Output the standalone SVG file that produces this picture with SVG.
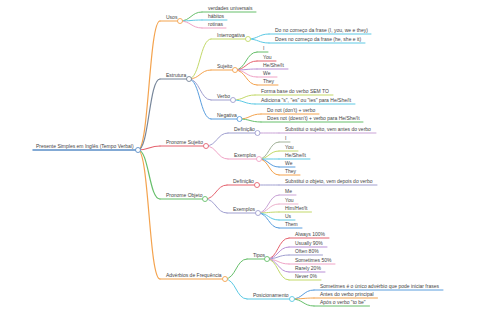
<svg xmlns="http://www.w3.org/2000/svg" width="480" height="320" viewBox="0 0 480 320">
<style>
text{font-family:"Liberation Sans",Arial,sans-serif;font-size:5px;fill:#444}
path,line{fill:none;stroke-linecap:round}
line{stroke-width:1}
.cn path{stroke-width:1}
.cn .d1{stroke-width:1.2}
circle{fill:#fff;stroke-width:0.9}
.o{stroke:#f4a34e}.g{stroke:#77869a}.r{stroke:#e5636f}.gr{stroke:#67bf6b}.yg{stroke:#c3d96a}
.c{stroke:#5cc9e4}.p{stroke:#f0a3c6}.pu{stroke:#b98fd6}.b{stroke:#5a9ede}.pg{stroke:#a09fd0}
.rt{stroke:#5b8fc7}.gy{stroke:#a3b39a}.mv{stroke:#c9a3d6}.lp{stroke:#ecb2cc}
</style>
<rect width="480" height="320" fill="#fff"/>
<g class="cn" id="connectors">
<path class="o d1" d="M138,150C149,150 149,21 160,21"/>
<path class="g d1" d="M138,150C149,150 149,79 160,79"/>
<path class="r d1" d="M138,150C149,150 149,146 160,146"/>
<path class="gr d1" d="M138,150C149,150 149,199 160,199"/>
<path class="o d1" d="M138,150C149,150 149,279 160,279"/>
<path class="gr" d="M180,21C191,21 191,12 202,12"/>
<path class="c" d="M180,21C191,21 191,20 202,20"/>
<path class="p" d="M180,21C191,21 191,28 202,28"/>
<path class="yg" d="M189,79C200,79 200,39 211,39"/>
<path class="o" d="M189,79C200,79 200,70 211,70"/>
<path class="pg" d="M189,79C200,79 200,100 211,100"/>
<path class="b" d="M189,79C200,79 200,119 211,119"/>
<path class="c" d="M248,39C258.5,39 258.5,34 269,34"/>
<path class="c" d="M248,39C258.5,39 258.5,43 269,43"/>
<path class="gr" d="M235,70C246,70 246,52 257,52"/>
<path class="r" d="M235,70C246,70 246,61 257,61"/>
<path class="pu" d="M235,70C246,70 246,69 257,69"/>
<path class="p" d="M235,70C246,70 246,77 257,77"/>
<path class="o" d="M235,70C246,70 246,85 257,85"/>
<path class="yg" d="M233,100C244,100 244,95 255,95"/>
<path class="c" d="M233,100C244,100 244,104 255,104"/>
<path class="o" d="M239.5,119C250,119 250,114 261,114"/>
<path class="gr" d="M239.5,119C250,119 250,122 261,122"/>
<path class="pg" d="M206,146C217,146 217,133 228,133"/>
<path class="p" d="M206,146C217,146 217,159 228,159"/>
<path class="mv" d="M257.5,133C268,133 268,133 279,133"/>
<path class="gy" d="M259,159C269,159 269,142 279,142"/>
<path class="yg" d="M259,159C269,159 269,151 279,151"/>
<path class="c" d="M259,159C269,159 269,159 279,159"/>
<path class="b" d="M259,159C269,159 269,167 279,167"/>
<path class="o" d="M259,159C269,159 269,175 279,175"/>
<path class="r" d="M205,199C216,199 216,185 227,185"/>
<path class="pg" d="M205,199C216,199 216,213 227,213"/>
<path class="pg" d="M257,185C268,185 268,185 279,185"/>
<path class="mv" d="M258,213C268.5,213 268.5,195 279,195"/>
<path class="lp" d="M258,213C268.5,213 268.5,204 279,204"/>
<path class="yg" d="M258,213C268.5,213 268.5,212 279,212"/>
<path class="c" d="M258,213C268.5,213 268.5,220 279,220"/>
<path class="b" d="M258,213C268.5,213 268.5,228 279,228"/>
<path class="gr" d="M225,279C236,279 236,259 247,259"/>
<path class="c" d="M225,279C236,279 236,299 247,299"/>
<path class="r" d="M267,259C278,259 278,238 289,238"/>
<path class="pu" d="M267,259C278,259 278,247 289,247"/>
<path class="pg" d="M267,259C278,259 278,255 289,255"/>
<path class="p" d="M267,259C278,259 278,264 289,264"/>
<path class="pu" d="M267,259C278,259 278,272 289,272"/>
<path class="yg" d="M267,259C278,259 278,280 289,280"/>
<path class="b" d="M292,299C303,299 303,290 314,290"/>
<path class="o" d="M292,299C303,299 303,298 314,298"/>
<path class="gr" d="M292,299C303,299 303,306 314,306"/>
</g>
<g id="root"><line class="rt" x1="33" y1="150" x2="138" y2="150" style="stroke-width:1.5"/><circle class="rt" cx="138" cy="150" r="2.5"/><text x="36" y="148.2">Presente Simples em Inglês (Tempo Verbal)</text></g>
<g id="usos"><line class="o" x1="160" y1="21" x2="180" y2="21" style="stroke-width:1.2"/><circle class="o" cx="180" cy="21" r="2.5"/><text x="166" y="19.2">Usos</text></g>
<g id="usos-1"><line class="gr" x1="202" y1="12" x2="256" y2="12"/><text x="208" y="10.2">verdades universais</text></g>
<g id="usos-2"><line class="c" x1="202" y1="20" x2="227" y2="20"/><text x="208" y="18.2">hábitos</text></g>
<g id="usos-3"><line class="p" x1="202" y1="28" x2="226" y2="28"/><text x="208" y="26.2">rotinas</text></g>
<g id="estrutura"><line class="g" x1="160" y1="79" x2="189" y2="79" style="stroke-width:1.2"/><circle class="g" cx="189" cy="79" r="2.5"/><text x="166" y="77.2">Estrutura</text></g>
<g id="interrogativa"><line class="yg" x1="211" y1="39" x2="248" y2="39"/><circle class="yg" cx="248" cy="39" r="2.5"/><text x="217" y="37.2">Interrogativa</text></g>
<g id="int-1"><line class="c" x1="269" y1="34" x2="371" y2="34"/><text x="275" y="32.2">Do no começo da frase (I, you, we e they)</text></g>
<g id="int-2"><line class="c" x1="269" y1="43" x2="365" y2="43"/><text x="275" y="41.2">Does no começo da frase (he, she e it)</text></g>
<g id="sujeito"><line class="o" x1="211" y1="70" x2="235" y2="70"/><circle class="o" cx="235" cy="70" r="2.5"/><text x="217" y="68.2">Sujeito</text></g>
<g id="suj-1"><line class="gr" x1="257" y1="52" x2="268" y2="52"/><text x="263" y="50.2">I</text></g>
<g id="suj-2"><line class="r" x1="257" y1="61" x2="276" y2="61"/><text x="263" y="59.2">You</text></g>
<g id="suj-3"><line class="pu" x1="257" y1="69" x2="288" y2="69"/><text x="263" y="67.2">He/She/It</text></g>
<g id="suj-4"><line class="p" x1="257" y1="77" x2="277" y2="77"/><text x="263" y="75.2">We</text></g>
<g id="suj-5"><line class="o" x1="257" y1="85" x2="278" y2="85"/><text x="263" y="83.2">They</text></g>
<g id="verbo"><line class="pg" x1="211" y1="100" x2="233" y2="100"/><circle class="pg" cx="233" cy="100" r="2.5"/><text x="217" y="98.2">Verbo</text></g>
<g id="verbo-1"><line class="yg" x1="255" y1="95" x2="333" y2="95"/><text x="261" y="93.2">Forma base do verbo SEM TO</text></g>
<g id="verbo-2"><line class="c" x1="255" y1="104" x2="355" y2="104"/><text x="261" y="102.2">Adiciona "s", "es" ou "ies" para He/She/It</text></g>
<g id="negativa"><line class="b" x1="211" y1="119" x2="239.5" y2="119"/><circle class="b" cx="239.5" cy="119" r="2.5"/><text x="217" y="117.2">Negativa</text></g>
<g id="neg-1"><line class="o" x1="261" y1="114" x2="319" y2="114"/><text x="267" y="112.2">Do not (don't) + verbo</text></g>
<g id="neg-2"><line class="gr" x1="261" y1="122" x2="363" y2="122"/><text x="267" y="120.2">Does not (doesn't) + verbo para He/She/It</text></g>
<g id="pronome-sujeito"><line class="r" x1="160" y1="146" x2="206" y2="146" style="stroke-width:1.2"/><circle class="r" cx="206" cy="146" r="2.5"/><text x="166" y="144.2">Pronome Sujeito</text></g>
<g id="ps-definicao"><line class="pg" x1="228" y1="133" x2="257.5" y2="133"/><circle class="pg" cx="257.5" cy="133" r="2.5"/><text x="234" y="131.2">Definição</text></g>
<g id="ps-def-1"><line class="mv" x1="279" y1="133" x2="376" y2="133"/><text x="285" y="131.2">Substitui o sujeito, vem antes do verbo</text></g>
<g id="ps-exemplos"><line class="p" x1="228" y1="159" x2="259" y2="159"/><circle class="p" cx="259" cy="159" r="2.5"/><text x="234" y="157.2">Exemplos</text></g>
<g id="ps-ex-1"><line class="gy" x1="279" y1="142" x2="290" y2="142"/><text x="285" y="140.2">I</text></g>
<g id="ps-ex-2"><line class="yg" x1="279" y1="151" x2="298" y2="151"/><text x="285" y="149.2">You</text></g>
<g id="ps-ex-3"><line class="c" x1="279" y1="159" x2="310" y2="159"/><text x="285" y="157.2">He/She/It</text></g>
<g id="ps-ex-4"><line class="b" x1="279" y1="167" x2="295" y2="167"/><text x="285" y="165.2">We</text></g>
<g id="ps-ex-5"><line class="o" x1="279" y1="175" x2="300" y2="175"/><text x="285" y="173.2">They</text></g>
<g id="pronome-objeto"><line class="gr" x1="160" y1="199" x2="205" y2="199" style="stroke-width:1.2"/><circle class="gr" cx="205" cy="199" r="2.5"/><text x="166" y="197.2">Pronome Objeto</text></g>
<g id="po-definicao"><line class="r" x1="227" y1="185" x2="257" y2="185"/><circle class="r" cx="257" cy="185" r="2.5"/><text x="233" y="183.2">Definição</text></g>
<g id="po-def-1"><line class="pg" x1="279" y1="185" x2="377" y2="185"/><text x="285" y="183.2">Substitui o objeto, vem depois do verbo</text></g>
<g id="po-exemplos"><line class="pg" x1="227" y1="213" x2="258" y2="213"/><circle class="pg" cx="258" cy="213" r="2.5"/><text x="233" y="211.2">Exemplos</text></g>
<g id="po-ex-1"><line class="mv" x1="279" y1="195" x2="296" y2="195"/><text x="285" y="193.2">Me</text></g>
<g id="po-ex-2"><line class="lp" x1="279" y1="204" x2="298" y2="204"/><text x="285" y="202.2">You</text></g>
<g id="po-ex-3"><line class="yg" x1="279" y1="212" x2="311.5" y2="212"/><text x="285" y="210.2">Him/Her/It</text></g>
<g id="po-ex-4"><line class="c" x1="279" y1="220" x2="295" y2="220"/><text x="285" y="218.2">Us</text></g>
<g id="po-ex-5"><line class="b" x1="279" y1="228" x2="302" y2="228"/><text x="285" y="226.2">Them</text></g>
<g id="adverbios"><line class="o" x1="160" y1="279" x2="225" y2="279" style="stroke-width:1.2"/><circle class="o" cx="225" cy="279" r="2.5"/><text x="166" y="277.2">Advérbios de Frequência</text></g>
<g id="tipos"><line class="gr" x1="247" y1="259" x2="267" y2="259"/><circle class="gr" cx="267" cy="259" r="2.5"/><text x="253" y="257.2">Tipos</text></g>
<g id="tipos-1"><line class="r" x1="289" y1="238" x2="329" y2="238"/><text x="295" y="236.2">Always 100%</text></g>
<g id="tipos-2"><line class="pu" x1="289" y1="247" x2="327" y2="247"/><text x="295" y="245.2">Usually 90%</text></g>
<g id="tipos-3"><line class="pg" x1="289" y1="255" x2="322.5" y2="255"/><text x="295" y="253.2">Often 80%</text></g>
<g id="tipos-4"><line class="p" x1="289" y1="264" x2="335" y2="264"/><text x="295" y="262.2">Sometimes 50%</text></g>
<g id="tipos-5"><line class="pu" x1="289" y1="272" x2="325" y2="272"/><text x="295" y="270.2">Rarely 20%</text></g>
<g id="tipos-6"><line class="yg" x1="289" y1="280" x2="321" y2="280"/><text x="295" y="278.2">Never 0%</text></g>
<g id="posicionamento"><line class="c" x1="247" y1="299" x2="292" y2="299"/><circle class="c" cx="292" cy="299" r="2.5"/><text x="253" y="297.2">Posicionamento</text></g>
<g id="pos-1"><line class="b" x1="314" y1="290" x2="443" y2="290"/><text x="320" y="288.2">Sometimes é o único advérbio que pode iniciar frases</text></g>
<g id="pos-2"><line class="o" x1="314" y1="298" x2="377.5" y2="298"/><text x="320" y="296.2">Antes do verbo principal</text></g>
<g id="pos-3"><line class="gr" x1="314" y1="306" x2="369.5" y2="306"/><text x="320" y="304.2">Após o verbo "to be"</text></g>
</svg>
